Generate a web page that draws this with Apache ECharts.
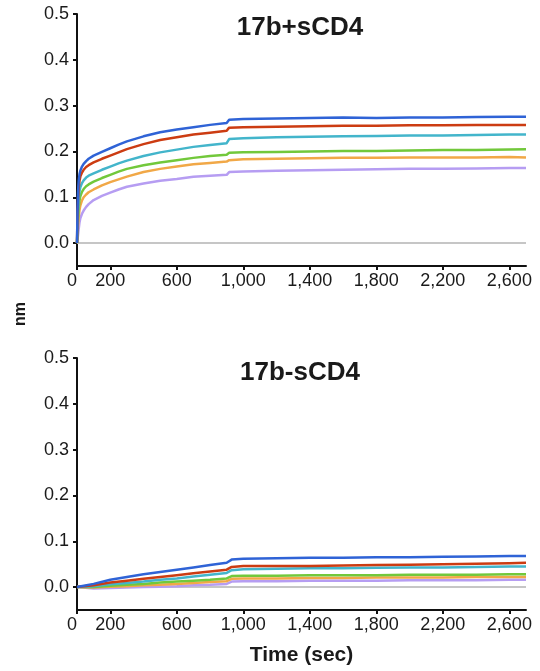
<!DOCTYPE html>
<html>
<head>
<meta charset="utf-8">
<script src="https://cdn.jsdelivr.net/npm/echarts@6/dist/echarts.min.js"></script>
<style>html,body{margin:0;padding:0;background:#fff;}#chart{width:540px;height:671px;}</style>
</head>
<body>
<div id="chart"></div>
<script>
// ---- data ----
const topTitle = '17b+sCD4';
const bottomTitle = '17b-sCD4';
const xTickValues = [0, 200, 600, 1000, 1400, 1800, 2200, 2600];
const yTickValues = [0, 0.1, 0.2, 0.3, 0.4, 0.5];
const seriesNames = ['c1', 'c2', 'c3', 'c4', 'c5', 'c6'];
const seriesColors = ['#2f63d6', '#cc3c12', '#43b5cb', '#72c83b', '#f1a847', '#b69df2'];

const topTimes  = [0,3,6,10,15,20,30,40,55,70,100,150,200,250,300,400,500,600,700,800,900,915,1000,1200,1400,1600,1800,2000,2200,2400,2600,2700];
const topBlue   = [0,0.07,0.11,0.135,0.15,0.158,0.167,0.173,0.179,0.184,0.191,0.199,0.207,0.215,0.222,0.233,0.242,0.248,0.253,0.258,0.262,0.269,0.271,0.272,0.273,0.274,0.273,0.274,0.274,0.275,0.276,0.276];
const topRed    = [0,0.06,0.095,0.12,0.136,0.145,0.154,0.16,0.166,0.17,0.176,0.184,0.191,0.198,0.205,0.216,0.225,0.231,0.237,0.241,0.245,0.252,0.253,0.254,0.255,0.256,0.256,0.257,0.257,0.258,0.258,0.258];
const topCyan   = [0,0.04,0.07,0.095,0.113,0.122,0.131,0.137,0.143,0.147,0.152,0.16,0.167,0.174,0.18,0.19,0.198,0.204,0.21,0.214,0.218,0.227,0.229,0.231,0.232,0.233,0.234,0.235,0.235,0.236,0.237,0.237];
const topGreen  = [0,0.03,0.052,0.075,0.093,0.102,0.112,0.118,0.124,0.128,0.134,0.142,0.149,0.156,0.162,0.17,0.176,0.181,0.186,0.19,0.193,0.197,0.198,0.199,0.20,0.201,0.201,0.202,0.203,0.203,0.204,0.205];
const topOrange = [0,0.02,0.037,0.056,0.072,0.082,0.093,0.10,0.106,0.111,0.117,0.126,0.133,0.139,0.145,0.155,0.162,0.167,0.172,0.175,0.178,0.181,0.183,0.184,0.185,0.186,0.186,0.187,0.187,0.187,0.188,0.187];
const topPurple = [0,0.008,0.017,0.03,0.045,0.054,0.064,0.071,0.079,0.085,0.094,0.103,0.11,0.117,0.123,0.13,0.136,0.14,0.145,0.147,0.149,0.155,0.156,0.158,0.159,0.16,0.161,0.162,0.162,0.163,0.164,0.164];

const botTimes = [0,100,200,300,400,500,600,700,800,900,930,1000,1200,1400,1600,1800,2000,2200,2400,2600,2700];
const botBlue   = [0,0.007,0.016,0.022,0.028,0.033,0.038,0.043,0.048,0.053,0.06,0.062,0.063,0.064,0.064,0.065,0.065,0.066,0.067,0.068,0.068];
const botRed    = [0,0.004,0.01,0.014,0.018,0.022,0.026,0.03,0.034,0.038,0.044,0.046,0.046,0.046,0.047,0.048,0.049,0.05,0.051,0.052,0.053];
const botCyan   = [0,0.002,0.006,0.009,0.012,0.016,0.019,0.023,0.027,0.031,0.037,0.039,0.04,0.041,0.041,0.042,0.043,0.043,0.044,0.045,0.045];
const botGreen  = [0,0.0,0.003,0.005,0.007,0.01,0.012,0.014,0.016,0.019,0.024,0.025,0.025,0.026,0.026,0.026,0.027,0.027,0.027,0.028,0.028];
const botOrange = [0,-0.001,0.001,0.002,0.004,0.005,0.007,0.009,0.011,0.013,0.018,0.019,0.019,0.02,0.02,0.021,0.021,0.021,0.022,0.022,0.022];
const botPurple = [0,-0.003,-0.002,-0.001,0.0,0.001,0.002,0.004,0.005,0.007,0.012,0.013,0.013,0.014,0.014,0.014,0.015,0.015,0.015,0.016,0.016];

const baselineTimes = [0, 2700];
const baselineValues = [0, 0];

// ---- build ----
const FONT = 'Liberation Sans, Arial, sans-serif';
const topSets = [topBlue, topRed, topCyan, topGreen, topOrange, topPurple];
const botSets = [botBlue, botRed, botCyan, botGreen, botOrange, botPurple];

function pairs(xs, ys) { return xs.map((x, i) => [x, ys[i]]); }

function xAxisDef(gi, withName) {
  const a = {
    type: 'value', gridIndex: gi, min: 0, max: 2700,
    axisLine: { show: true, onZero: false, lineStyle: { color: '#111', width: 2 } },
    axisTick: { show: true, length: 4, lineStyle: { color: '#111', width: 2 }, customValues: xTickValues },
    axisLabel: { fontSize: 18, color: '#1a1a1a', fontFamily: FONT, margin: 6, customValues: xTickValues,
      alignMinLabel: 'right',
      formatter: v => Number(v).toLocaleString('en-US') },
    splitLine: { show: false }
  };
  if (withName) {
    a.name = 'Time (sec)';
    a.nameLocation = 'middle';
    a.nameGap = 35;
    a.nameTextStyle = { fontSize: 21, fontWeight: 'bold', color: '#1a1a1a', fontFamily: FONT };
  }
  return a;
}
function yAxisDef(gi) {
  return {
    type: 'value', gridIndex: gi, min: -0.05, max: 0.5,
    axisLine: { show: true, onZero: false, lineStyle: { color: '#111', width: 2 } },
    axisTick: { show: true, length: 4, lineStyle: { color: '#111', width: 2 }, customValues: yTickValues },
    axisLabel: { fontSize: 18, color: '#1a1a1a', fontFamily: FONT, margin: 8, customValues: yTickValues,
      formatter: v => Number(v).toFixed(1) },
    splitLine: { show: false }
  };
}

const series = [];
[0, 1].forEach(gi => {
  series.push({
    type: 'line', xAxisIndex: gi, yAxisIndex: gi, showSymbol: false, silent: true,
    data: pairs(baselineTimes, baselineValues),
    lineStyle: { color: '#c6c6c6', width: 2 }, z: 1
  });
  const times = gi === 0 ? topTimes : botTimes;
  const sets = gi === 0 ? topSets : botSets;
  for (let k = sets.length - 1; k >= 0; k--) {
    series.push({
      name: seriesNames[k], type: 'line', xAxisIndex: gi, yAxisIndex: gi,
      showSymbol: false, symbol: 'none', data: pairs(times, sets[k]),
      lineStyle: { color: seriesColors[k], width: 2.5, join: 'round' }, z: 2 + (sets.length - k)
    });
  }
});

const chart = echarts.init(document.getElementById('chart'), null, { renderer: 'canvas' });
chart.setOption({
  animation: false,
  backgroundColor: '#ffffff',
  grid: [
    { left: 77, right: 14, top: 14, height: 252, containLabel: false, outerBoundsMode: 'none' },
    { left: 77, right: 14, top: 358, height: 252, containLabel: false, outerBoundsMode: 'none' }
  ],
  xAxis: [xAxisDef(0, false), xAxisDef(1, true)],
  yAxis: [yAxisDef(0), yAxisDef(1)],
  graphic: [
    { type: 'text', x: 300, y: 28, style: { text: topTitle, fill: '#1a1a1a', font: 'bold 26px ' + FONT, textAlign: 'center', textVerticalAlign: 'middle' } },
    { type: 'text', x: 300, y: 373, style: { text: bottomTitle, fill: '#1a1a1a', font: 'bold 26px ' + FONT, textAlign: 'center', textVerticalAlign: 'middle' } },
    { type: 'text', x: 21, y: 314, rotation: Math.PI / 2, style: { text: 'nm', fill: '#1a1a1a', font: 'bold 16px ' + FONT, textAlign: 'center', textVerticalAlign: 'middle' } }
  ],
  series: series
});
</script>
</body>
</html>
